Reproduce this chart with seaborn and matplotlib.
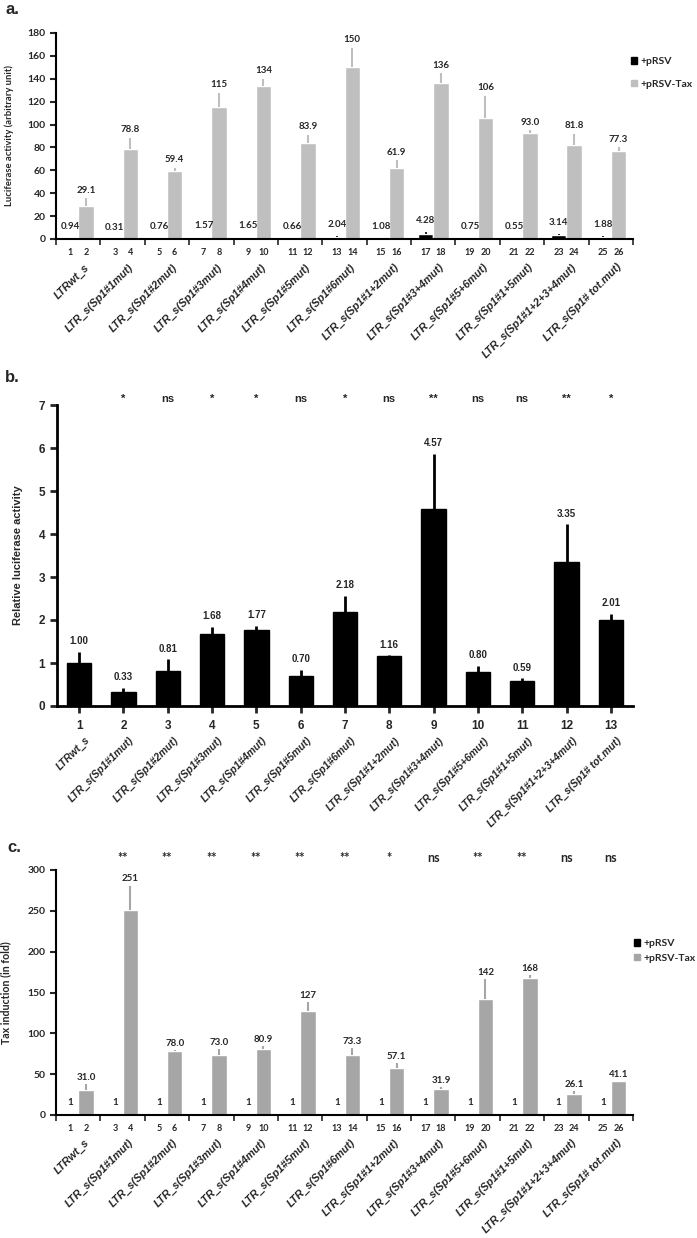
import matplotlib
matplotlib.use("Agg")
import matplotlib.pyplot as plt
from matplotlib.patches import Patch
import numpy as np
import pandas as pd
import seaborn as sns

constructs = ["LTRwt_s", "LTR_s(Sp1#1mut)", "LTR_s(Sp1#2mut)", "LTR_s(Sp1#3mut)",
              "LTR_s(Sp1#4mut)", "LTR_s(Sp1#5mut)", "LTR_s(Sp1#6mut)", "LTR_s(Sp1#1+2mut)",
              "LTR_s(Sp1#3+4mut)", "LTR_s(Sp1#5+6mut)", "LTR_s(Sp1#1+5mut)",
              "LTR_s(Sp1#1+2+3+4mut)", "LTR_s(Sp1# tot.mut)"]
series = ["+pRSV", "+pRSV-Tax"]

# a. luciferase activity (arbitrary unit)
luc_rsv = [0.94, 0.31, 0.76, 1.57, 1.65, 0.66, 2.04, 1.08, 4.28, 0.75, 0.55, 3.14, 1.88]
luc_rsv_err = [0.3, 0.1, 0.2, 0.3, 0.3, 0.2, 0.6, 0.2, 1.5, 0.2, 0.1, 0.9, 0.4]
luc_tax = [29.1, 78.8, 59.4, 115, 134, 83.9, 150, 61.9, 136, 106, 93.0, 81.8, 77.3]
luc_tax_err = [6.7, 9.5, 2.7, 12.6, 6.0, 7.0, 17.0, 7.0, 9.0, 19.0, 2.0, 10.0, 3.0]

# b. relative luciferase activity
rel_luc = [1.00, 0.33, 0.81, 1.68, 1.77, 0.70, 2.18, 1.16, 4.57, 0.80, 0.59, 3.35, 2.01]
rel_luc_err = [0.26, 0.09, 0.28, 0.16, 0.09, 0.14, 0.38, 0.02, 1.29, 0.14, 0.05, 0.88, 0.13]
rel_sig = ["", "*", "ns", "*", "*", "ns", "*", "ns", "**", "ns", "ns", "**", "*"]

# c. tax induction (in fold)
fold_rsv = [1, 1, 1, 1, 1, 1, 1, 1, 1, 1, 1, 1, 1]
fold_tax = [31.0, 251, 78.0, 73.0, 80.9, 127, 73.3, 57.1, 31.9, 142, 168, 26.1, 41.1]
fold_tax_err = [7.0, 30.0, 2.0, 8.0, 4.0, 11.0, 9.0, 6.6, 2.0, 25.0, 3.6, 3.3, 1.0]
fold_sig = ["", "**", "**", "**", "**", "**", "**", "*", "ns", "**", "**", "ns", "ns"]

BLACK = "#000000"
GRAY_A = "#BFBFBF"
GRAY_C = "#A6A6A6"
CAL = ["Lato", "DejaVu Sans"]
ARL = ["Liberation Sans", "DejaVu Sans"]
W, H = 697, 1238

sns.set_style("ticks")
plt.rcParams["font.family"] = CAL
plt.rcParams["font.weight"] = "bold"


def fmt(v):
    if v < 10:
        return f"{v:.2f}"
    if v < 100:
        return f"{v:.1f}"
    return f"{v:.0f}"


def add_axes_px(fig, l, t, r, b):
    return fig.add_axes([l / W, 1 - b / H, (r - l) / W, (b - t) / H])


def base_style(ax, lw, font, fs):
    sns.despine(ax=ax)
    for s in ["left", "bottom"]:
        ax.spines[s].set_linewidth(lw)
        ax.spines[s].set_color("black")
    ax.tick_params(axis="y", length=4, width=lw, direction="out", labelsize=fs)
    for t in ax.get_yticklabels():
        t.set_family(font)
        t.set_weight("bold")


def category_labels(ax, dy, fs):
    for i, name in enumerate(constructs):
        ax.annotate(name, (i, 0), xycoords=("data", "axes fraction"),
                    xytext=(4, -dy), textcoords="offset points",
                    rotation=45, ha="right", va="top", rotation_mode="anchor",
                    fontsize=fs, family=ARL, weight="bold", style="italic")


def sig_marks(ax, marks, dy, font, fs):
    for i, m in enumerate(marks):
        if m:
            ax.annotate(m, (i, 1), xycoords=("data", "axes fraction"),
                        xytext=(0, dy), textcoords="offset points",
                        ha="center", va="center", fontsize=fs, family=font, weight="bold")


def paired_panel(ax, rsv, rsv_err, tax, tax_err, gray, ymax, ystep, ylabel, ylab_fs,
                 rsv_lbl, offs, num_dy, cat_dy, lab_x):
    df = pd.DataFrame({
        "construct": constructs * 2,
        "series": [series[0]] * len(constructs) + [series[1]] * len(constructs),
        "value": rsv + tax,
    })
    sns.barplot(data=df, x="construct", y="value", hue="series", order=constructs,
                hue_order=series, palette=[BLACK, gray], width=0.7, saturation=1,
                errorbar=None, legend=False, ax=ax)
    xs_rsv = [p.get_x() + p.get_width() / 2 for p in ax.containers[0]]
    xs_tax = [p.get_x() + p.get_width() / 2 for p in ax.containers[1]]
    ax.errorbar(xs_rsv, rsv, yerr=[np.zeros(len(rsv)), rsv_err], fmt="none",
                ecolor=BLACK, elinewidth=1.2, capsize=0)
    ax.errorbar(xs_tax, tax, yerr=[np.zeros(len(tax)), tax_err], fmt="none",
                ecolor=gray, elinewidth=1.5, capsize=0)
    for x, v, e, s in zip(xs_rsv, rsv, rsv_err, rsv_lbl):
        ax.annotate(s, (x, v + e), xytext=(0, offs[0]), textcoords="offset points",
                    ha="center", va="bottom", fontsize=7, family=CAL, weight="bold")
    for x, v, e in zip(xs_tax, tax, tax_err):
        ax.annotate(fmt(v), (x, v + e), xytext=(0, offs[1]), textcoords="offset points",
                    ha="center", va="bottom", fontsize=7, family=CAL, weight="bold")
    k = 1
    for a, b in zip(xs_rsv, xs_tax):
        for x in (a, b):
            ax.annotate(str(k), (x, 0), xycoords=("data", "axes fraction"),
                        xytext=(0, -num_dy), textcoords="offset points",
                        ha="center", va="center", fontsize=6.5, family=CAL, weight="bold")
            k += 1
    ax.set_ylim(0, ymax)
    ax.set_yticks(np.arange(0, ymax + 1, ystep))
    ax.set_xlim(-0.5, len(constructs) - 0.5)
    ax.set_xticks([])
    ax.set_xticks(np.arange(-0.5, len(constructs), 1), minor=True)
    ax.tick_params(axis="x", which="minor", length=4, width=1.2, direction="out")
    ax.set_xlabel("")
    ax.set_ylabel(ylabel, fontsize=ylab_fs, family=CAL, weight="bold")
    ax.yaxis.set_label_coords(lab_x, 0.5)
    base_style(ax, 1.5, CAL, 7.5)
    category_labels(ax, cat_dy, 7.8)


def side_legend(fig, gray, x, top, spacing):
    fig.legend(handles=[Patch(color=BLACK), Patch(color=gray)], labels=series,
               loc="upper left", bbox_to_anchor=(x / W, 1 - top / H), frameon=False,
               borderpad=0, borderaxespad=0, handlelength=0.6, handleheight=0.6,
               handletextpad=0.35, labelspacing=spacing,
               prop={"family": CAL, "weight": "bold", "size": 7.5})


fig = plt.figure(figsize=(W / 100, H / 100), dpi=100, facecolor="white")

# panel a
ax_a = add_axes_px(fig, 56, 33, 633, 239)
paired_panel(ax_a, luc_rsv, luc_rsv_err, luc_tax, luc_tax_err, GRAY_A, 180, 20,
             "Luciferase activity (arbitrary unit)", 6.8, [fmt(v) for v in luc_rsv],
             (5, 2.5), 10, 16.5, -0.072)
side_legend(fig, GRAY_A, 631, 57, 1.3)
fig.text(5 / W, 1 - 10 / H, "a.", fontsize=12, family=ARL, weight="bold", va="center")

# panel b
ax_b = add_axes_px(fig, 57, 405, 633, 706)
df_b = pd.DataFrame({"construct": constructs, "value": rel_luc})
sns.barplot(data=df_b, x="construct", y="value", order=constructs, color=BLACK,
            saturation=1, width=0.55, errorbar=None, edgecolor=BLACK, ax=ax_b)
ax_b.errorbar(np.arange(len(constructs)), rel_luc,
              yerr=[np.zeros(len(rel_luc)), rel_luc_err], fmt="none",
              ecolor=BLACK, elinewidth=2, capsize=0)
for i, (v, e) in enumerate(zip(rel_luc, rel_luc_err)):
    ax_b.annotate(f"{v:.2f}", (i, v + e), xytext=(0, 4), textcoords="offset points",
                  ha="center", va="bottom", fontsize=7, family=ARL, weight="bold")
ax_b.set_ylim(0, 7)
ax_b.set_yticks(np.arange(0, 8, 1))
ax_b.set_xlim(-0.5, len(constructs) - 0.5)
ax_b.set_xticks(np.arange(len(constructs)))
ax_b.set_xticklabels([str(i + 1) for i in range(len(constructs))], family=ARL,
                     weight="bold", fontsize=8.5)
ax_b.tick_params(axis="x", length=5, width=2, direction="out", pad=5)
ax_b.set_xlabel("")
ax_b.set_ylabel("Relative luciferase activity", fontsize=8, family=ARL, weight="bold")
ax_b.yaxis.set_label_coords(-0.059, 0.5)
base_style(ax_b, 2, ARL, 8.5)
ax_b.tick_params(axis="y", length=5)
category_labels(ax_b, 21, 7.5)
sig_marks(ax_b, rel_sig, 4.5, ARL, 8)
fig.text(5 / W, 1 - 377 / H, "b.", fontsize=12, family=ARL, weight="bold", va="center")

# panel c
ax_c = add_axes_px(fig, 56, 870, 633, 1115)
paired_panel(ax_c, fold_rsv, [0] * len(fold_rsv), fold_tax, fold_tax_err, GRAY_C, 300, 50,
             "Tax induction (in fold)", 7.7, [str(v) for v in fold_rsv],
             (5.5, 1.5), 9.5, 16, -0.078)
sig_marks(ax_c, fold_sig, 8.5, CAL, 9)
side_legend(fig, GRAY_C, 634, 939, 0.55)
fig.text(7 / W, 1 - 847 / H, "c.", fontsize=12, family=ARL, weight="bold", va="center")

fig.savefig("out.png", dpi=100, facecolor="white")
